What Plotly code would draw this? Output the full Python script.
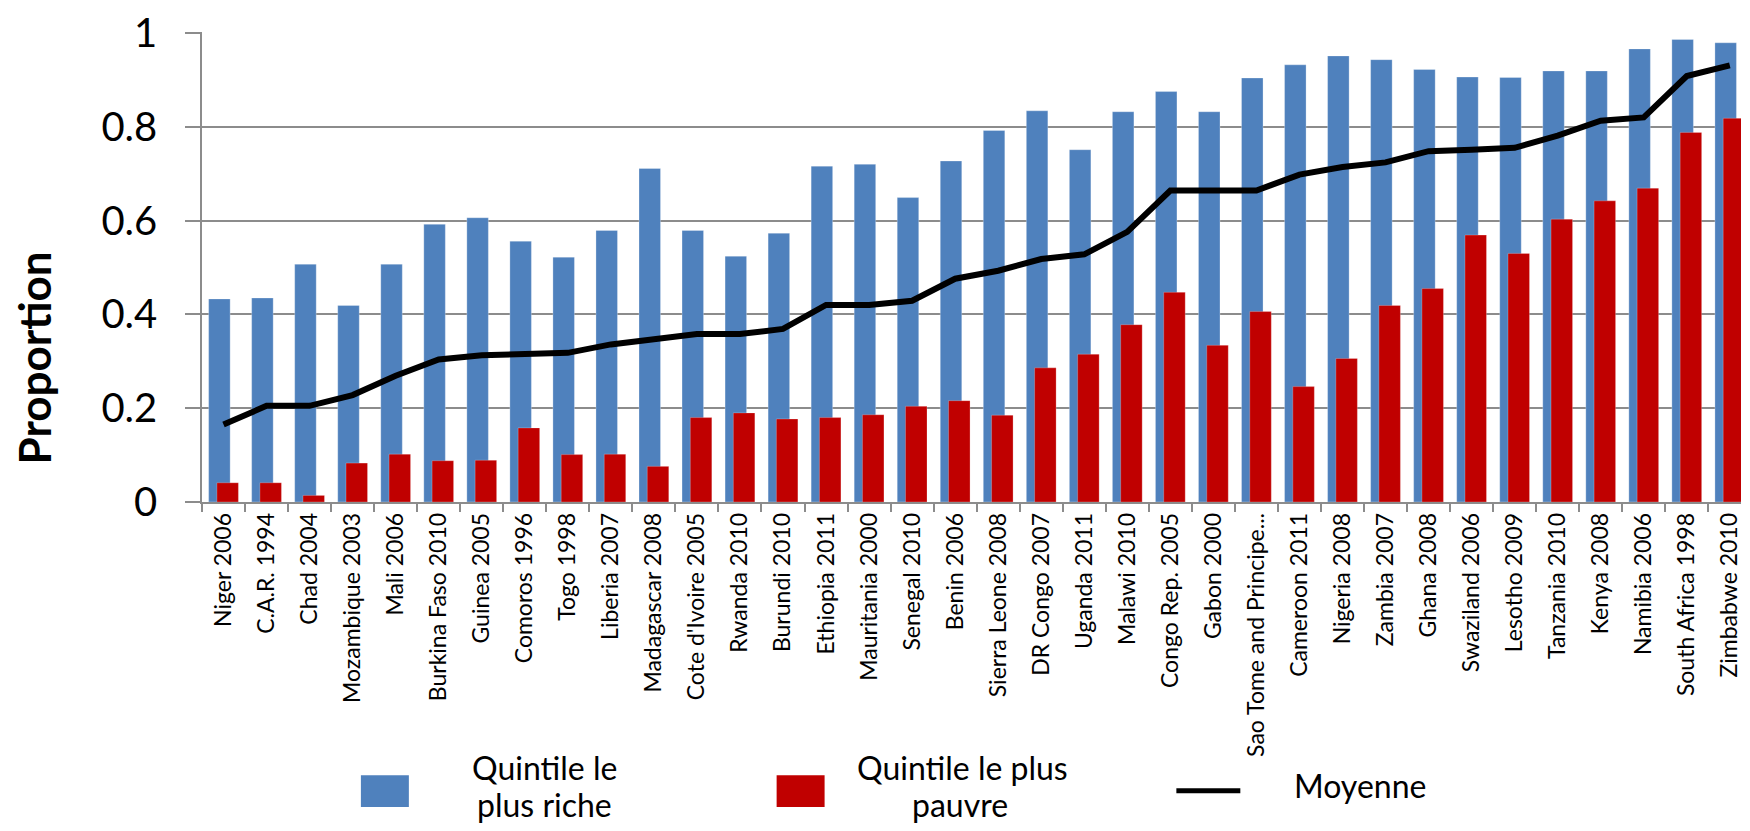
import plotly.graph_objects as go

# Data
countries = [
    "Niger 2006", "C.A.R. 1994", "Chad 2004", "Mozambique 2003", "Mali 2006",
    "Burkina Faso 2010", "Guinea 2005", "Comoros 1996", "Togo 1998", "Liberia 2007",
    "Madagascar 2008", "Cote d'Ivoire 2005", "Rwanda 2010", "Burundi 2010",
    "Ethiopia 2011", "Mauritania 2000", "Senegal 2010", "Benin 2006",
    "Sierra Leone 2008", "DR Congo 2007", "Uganda 2011", "Malawi 2010",
    "Congo Rep. 2005", "Gabon 2000", "Sao Tome and Principe...", "Cameroon 2011",
    "Nigeria 2008", "Zambia 2007", "Ghana 2008", "Swaziland 2006", "Lesotho 2009",
    "Tanzania 2010", "Kenya 2008", "Namibia 2006", "South Africa 1998", "Zimbabwe 2010",
]
richest = [
    0.433, 0.435, 0.507, 0.419, 0.507, 0.592, 0.606, 0.556, 0.522, 0.579,
    0.711, 0.579, 0.524, 0.573, 0.716, 0.720, 0.649, 0.727, 0.792, 0.834,
    0.751, 0.832, 0.875, 0.832, 0.904, 0.932, 0.951, 0.943, 0.922, 0.906,
    0.905, 0.919, 0.919, 0.966, 0.986, 0.979,
]
poorest = [
    0.041, 0.041, 0.014, 0.083, 0.102, 0.088, 0.089, 0.158, 0.101, 0.102,
    0.076, 0.180, 0.190, 0.177, 0.180, 0.186, 0.204, 0.216, 0.185, 0.286,
    0.315, 0.378, 0.447, 0.334, 0.406, 0.246, 0.306, 0.419, 0.455, 0.569,
    0.530, 0.603, 0.642, 0.669, 0.788, 0.818,
]
average = [
    0.165, 0.205, 0.205, 0.228, 0.269, 0.304, 0.313, 0.314, 0.318, 0.336,
    0.346, 0.358, 0.358, 0.369, 0.420, 0.420, 0.429, 0.476, 0.493, 0.518,
    0.528, 0.576, 0.664, 0.664, 0.664, 0.698, 0.714, 0.724, 0.748, 0.751,
    0.755, 0.781, 0.813, 0.820, 0.908, 0.931,
]
y_ticks = [0, 0.2, 0.4, 0.6, 0.8, 1]
y_tick_labels = ["0", "0.2", "0.4", "0.6", "0.8", "1"]

BLUE = "#4F81BD"
RED = "#C00000"
GRID = "#8C8C8C"

# the page body has an 8px margin, so the figure is shrunk to fit the window
OFF = 8
WIN_W, WIN_H = 1750, 831
W, H = WIN_W - 2 * OFF, WIN_H - 2 * OFF
PLOT_LEFT, PLOT_TOP, PLOT_BOTTOM = 202, 30, 502   # window pixels
L, R = PLOT_LEFT - OFF, 0
T = PLOT_TOP - OFF - 1
B = (WIN_H - OFF) - PLOT_BOTTOM


# window pixel -> paper helpers for the hand-made legend
def px_x(px):
    return (px - PLOT_LEFT) / (W - L - R)


def px_y(py):
    return (PLOT_BOTTOM - py) / (PLOT_BOTTOM - PLOT_TOP + 1)


fig = go.Figure()

fig.add_trace(go.Bar(
    x=countries, y=richest,
    name="Quintile le plus riche",
    marker=dict(color=BLUE, line=dict(color="rgba(255,255,255,0.35)", width=0.8)),
    width=0.5, offset=-0.346,
))
fig.add_trace(go.Bar(
    x=countries, y=poorest,
    name="Quintile le plus pauvre",
    marker=dict(color=RED, line=dict(color="rgba(255,255,255,0.3)", width=0.8)),
    width=0.5, offset=-0.154,
))
fig.add_trace(go.Scatter(
    x=countries, y=average,
    name="Moyenne",
    mode="lines",
    line=dict(color="black", width=6),
))

# legend drawn by hand (wide swatches, wrapped labels)
fig.add_shape(type="rect", xref="paper", yref="paper",
              x0=px_x(361), x1=px_x(409), y0=px_y(809), y1=px_y(777),
              fillcolor=BLUE, line=dict(width=0))
fig.add_shape(type="rect", xref="paper", yref="paper",
              x0=px_x(777), x1=px_x(825), y0=px_y(809), y1=px_y(777),
              fillcolor=RED, line=dict(width=0))
fig.add_shape(type="line", xref="paper", yref="paper",
              x0=px_x(1177), x1=px_x(1241), y0=px_y(792.5), y1=px_y(792.5),
              line=dict(color="black", width=5))

legend_font = dict(family="Lato", size=32, color="black")
for text, cx, cy in [
    ("Quintile le", 545, 769), ("plus riche", 545, 806),
    ("Quintile le plus", 963, 769), ("pauvre", 960, 806),
    ("Moyenne", 1361, 787),
]:
    fig.add_annotation(text=text, xref="paper", yref="paper",
                       x=px_x(cx), y=px_y(cy), xanchor="center", yanchor="middle",
                       showarrow=False, font=legend_font, borderpad=0)

# the title sits below the middle of the axis in the original:
# trailing no-break spaces push the visible word down
title_pad = "\u00a0" * 17

fig.update_layout(
    width=W, height=H,
    margin=dict(l=L, r=R, t=T, b=B, pad=0),
    barmode="overlay",
    showlegend=False,
    plot_bgcolor="white",
    paper_bgcolor="white",
    xaxis=dict(
        type="category",
        range=[-0.5, 35.26],
        showline=True, linecolor=GRID, linewidth=1.5,
        ticks="outside", tickson="boundaries", ticklen=8, tickcolor=GRID, tickwidth=1.5,
        tickangle=-90,
        tickfont=dict(family="Lato", size=23, color="black"),
        showgrid=False,
    ),
    yaxis=dict(
        title=dict(text="<b>Proportion" + title_pad + "</b>", standoff=44,
                   font=dict(family="Lato", size=44, color="black")),
        range=[0, 1.002],
        tickvals=y_ticks, ticktext=y_tick_labels,
        showline=True, linecolor=GRID, linewidth=1.5,
        ticks="outside", ticklen=15, tickcolor=GRID, tickwidth=1.5,
        ticklabelstandoff=20, ticklabeloverflow="allow",
        tickfont=dict(family="Lato", size=40, color="black"),
        showgrid=True, gridcolor=GRID, gridwidth=1.5,
        zeroline=False,
    ),
)

fig.write_html("out.html")
